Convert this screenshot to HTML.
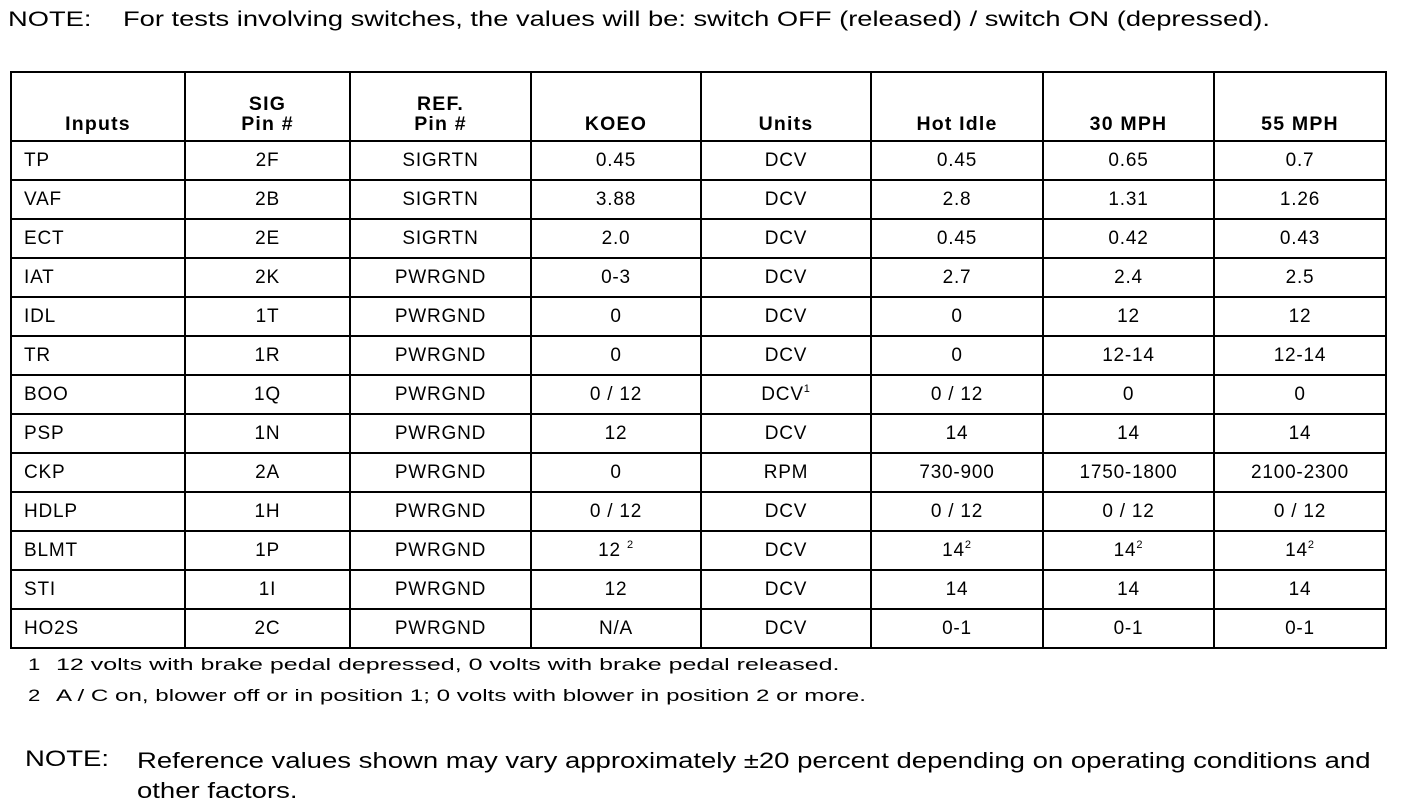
<!DOCTYPE html>
<html><head><meta charset="utf-8"><style>
body{margin:0;width:1408px;height:812px;background:#fff;font-family:"Liberation Sans",sans-serif;color:#000;position:relative;overflow:hidden}
.t{position:absolute;white-space:nowrap;font-size:21px;transform-origin:0 0}
table{position:absolute;left:10px;top:71px;border-collapse:collapse;table-layout:fixed;font-size:19px;letter-spacing:0.8px}
td,th{border:2px solid #000;padding:0;text-align:center;height:37px;line-height:20px}
th{height:61px;vertical-align:bottom;padding-bottom:6px;font-weight:bold;font-size:19.5px;letter-spacing:1.2px}
td:first-child{text-align:left;padding-left:12px}
sup{font-size:11px;vertical-align:8px;line-height:0}
.f{position:absolute;font-size:17px;white-space:nowrap;transform-origin:0 0}
</style></head><body>
<div class="t" style="left:8px;top:8px;transform:scaleX(1.3)">NOTE:</div>
<div class="t" style="left:123px;top:8px;transform:scaleX(1.3)">For tests involving switches, the values will be: switch OFF (released) / switch ON (depressed).</div>
<table>
<colgroup><col style="width:174px"><col style="width:165px"><col style="width:181px"><col style="width:170px"><col style="width:170px"><col style="width:172px"><col style="width:171px"><col style="width:172px"></colgroup>
<tr><th>Inputs</th><th>SIG<br>Pin #</th><th>REF.<br>Pin #</th><th>KOEO</th><th>Units</th><th>Hot Idle</th><th>30 MPH</th><th>55 MPH</th></tr>
<tr><td>TP</td><td>2F</td><td>SIGRTN</td><td>0.45</td><td>DCV</td><td>0.45</td><td>0.65</td><td>0.7</td></tr>
<tr><td>VAF</td><td>2B</td><td>SIGRTN</td><td>3.88</td><td>DCV</td><td>2.8</td><td>1.31</td><td>1.26</td></tr>
<tr><td>ECT</td><td>2E</td><td>SIGRTN</td><td>2.0</td><td>DCV</td><td>0.45</td><td>0.42</td><td>0.43</td></tr>
<tr><td>IAT</td><td>2K</td><td>PWRGND</td><td>0-3</td><td>DCV</td><td>2.7</td><td>2.4</td><td>2.5</td></tr>
<tr><td>IDL</td><td>1T</td><td>PWRGND</td><td>0</td><td>DCV</td><td>0</td><td>12</td><td>12</td></tr>
<tr><td>TR</td><td>1R</td><td>PWRGND</td><td>0</td><td>DCV</td><td>0</td><td>12-14</td><td>12-14</td></tr>
<tr><td>BOO</td><td>1Q</td><td>PWRGND</td><td>0 / 12</td><td>DCV<sup>1</sup></td><td>0 / 12</td><td>0</td><td>0</td></tr>
<tr><td>PSP</td><td>1N</td><td>PWRGND</td><td>12</td><td>DCV</td><td>14</td><td>14</td><td>14</td></tr>
<tr><td>CKP</td><td>2A</td><td>PWRGND</td><td>0</td><td>RPM</td><td>730-900</td><td>1750-1800</td><td>2100-2300</td></tr>
<tr><td>HDLP</td><td>1H</td><td>PWRGND</td><td>0 / 12</td><td>DCV</td><td>0 / 12</td><td>0 / 12</td><td>0 / 12</td></tr>
<tr><td>BLMT</td><td>1P</td><td>PWRGND</td><td>12 <sup>2</sup></td><td>DCV</td><td>14<sup>2</sup></td><td>14<sup>2</sup></td><td>14<sup>2</sup></td></tr>
<tr><td>STI</td><td>1I</td><td>PWRGND</td><td>12</td><td>DCV</td><td>14</td><td>14</td><td>14</td></tr>
<tr><td>HO2S</td><td>2C</td><td>PWRGND</td><td>N/A</td><td>DCV</td><td>0-1</td><td>0-1</td><td>0-1</td></tr>
</table>
<div class="f" style="left:28px;top:655px;transform:scaleX(1.3)">1</div>
<div class="f" style="left:56px;top:655px;transform:scaleX(1.47)">12 volts with brake pedal depressed, 0 volts with brake pedal released.</div>
<div class="f" style="left:28px;top:686px;transform:scaleX(1.3)">2</div>
<div class="f" style="left:56px;top:686px;transform:scaleX(1.42)">A / C on, blower off or in position 1; 0 volts with blower in position 2 or more.</div>
<div class="t" style="left:25px;top:746px;font-size:22px;transform:scaleX(1.25)">NOTE:</div>
<div class="t" style="left:137px;top:746px;font-size:22px;line-height:30px;transform:scaleX(1.25)">Reference values shown may vary approximately ±20 percent depending on operating conditions and<br>other factors.</div>
</body></html>
